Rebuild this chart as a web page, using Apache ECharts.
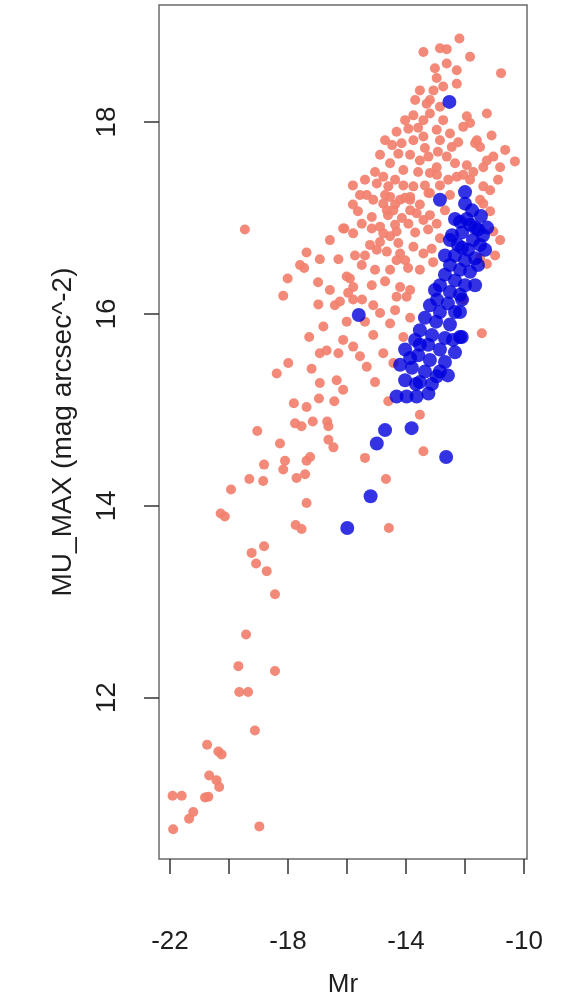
<!DOCTYPE html>
<html>
<head>
<meta charset="utf-8">
<script src="https://cdn.jsdelivr.net/npm/echarts@6/dist/echarts.min.js"></script>
<style>
  html, body { margin: 0; padding: 0; background: #fff; }
  #main { width: 566px; height: 998px; }
</style>
</head>
<body>
<div id="main"></div>
<script>
// tick positions / labels
var xTicks = [-22, -20, -18, -16, -14, -12, -10];
var xLabels = [-22, -18, -14, -10];
var yTicks = [12, 14, 16, 18];

// salmon points: [Mr, MU_MAX]
var others = [
  [-18.44, 13.08], [-19.42, 12.66], [-19.68, 12.33], [-18.44, 12.28], [-19.65, 12.06],
  [-19.35, 12.06], [-19.12, 11.66], [-20.74, 11.51], [-20.36, 11.44], [-20.25, 11.41],
  [-20.67, 11.19], [-20.42, 11.14], [-20.33, 11.07], [-21.91, 10.98], [-21.60, 10.98],
  [-20.81, 10.96], [-20.70, 10.97], [-21.21, 10.81], [-21.35, 10.74], [-21.89, 10.63],
  [-18.97, 10.66],
  [-18.38, 15.38], [-16.92, 15.28], [-16.35, 15.31], [-16.13, 15.21], [-17.80, 15.07],
  [-17.37, 15.03], [-16.95, 15.12], [-16.43, 15.09], [-17.76, 14.86], [-17.54, 14.83],
  [-17.16, 14.88], [-16.67, 14.88], [-16.63, 14.83], [-19.04, 14.78], [-18.27, 14.65],
  [-16.63, 14.69], [-16.46, 14.61], [-18.10, 14.47], [-18.16, 14.38], [-17.25, 14.51],
  [-17.37, 14.47], [-18.81, 14.43], [-19.31, 14.28], [-18.84, 14.26], [-17.71, 14.29],
  [-17.42, 14.33], [-19.93, 14.17], [-17.37, 14.03], [-20.28, 13.92], [-20.14, 13.89],
  [-17.74, 13.80], [-17.54, 13.76], [-18.81, 13.58], [-19.23, 13.51], [-19.08, 13.40],
  [-18.72, 13.32],
  [-19.46, 16.88], [-17.37, 16.64], [-17.59, 16.51], [-17.45, 16.48], [-16.92, 16.57],
  [-16.29, 16.57], [-16.09, 16.89], [-18.01, 16.37], [-18.16, 16.19], [-16.97, 16.10],
  [-16.41, 16.09], [-16.24, 16.13], [-16.80, 15.87], [-17.28, 15.76], [-16.92, 15.59],
  [-16.69, 15.62], [-16.29, 15.59], [-17.99, 15.49], [-17.20, 15.43], [-16.01, 16.39],
  [-16.01, 15.92],
  [-15.33, 17.24], [-15.80, 17.14], [-15.63, 17.07], [-15.16, 17.01], [-16.13, 16.89],
  [-15.79, 16.84], [-15.50, 16.94], [-15.16, 16.89], [-14.88, 16.91], [-15.22, 16.72],
  [-14.88, 16.75], [-14.54, 16.81], [-14.32, 16.86], [-14.26, 16.74], [-14.20, 16.63],
  [-15.50, 16.51], [-14.32, 16.56], [-15.90, 16.37], [-15.79, 16.28], [-15.16, 16.30],
  [-14.71, 16.34], [-14.20, 16.28], [-13.93, 16.48], [-14.32, 16.18], [-13.98, 16.18],
  [-14.71, 17.24], [-14.37, 17.14], [-14.03, 17.21], [-14.61, 17.03], [-14.14, 17.00],
  [-14.65, 17.08], [-13.86, 17.19], [-13.64, 17.05], [-13.19, 17.26], [-14.77, 16.84],
  [-13.92, 16.94], [-13.41, 16.98], [-12.96, 16.94], [-14.99, 16.67], [-14.65, 16.65],
  [-13.75, 16.70], [-13.41, 16.63], [-13.13, 16.68], [-15.73, 16.61], [-13.53, 16.46],
  [-13.86, 16.25], [-15.96, 16.22], [-15.79, 16.15], [-15.11, 16.09], [-14.88, 16.01],
  [-14.54, 15.90], [-14.09, 15.76], [-15.11, 15.78], [-16.13, 15.73], [-15.79, 15.66],
  [-15.56, 15.56], [-15.33, 15.45], [-14.77, 15.59], [-14.43, 15.49],
  [-11.15, 17.07], [-11.04, 16.86], [-11.38, 17.15], [-11.49, 16.58], [-11.26, 16.52],
  [-12.06, 16.15], [-11.43, 15.80],
  [-15.05, 15.29], [-14.60, 15.09], [-13.53, 14.95], [-13.41, 14.57], [-15.39, 14.50],
  [-14.68, 14.28], [-14.58, 13.77],
  [-12.19, 18.87], [-13.41, 18.73], [-12.85, 18.77], [-12.62, 18.76], [-11.83, 18.68],
  [-10.78, 18.51], [-12.62, 18.61], [-13.02, 18.56], [-12.28, 18.54], [-12.96, 18.46],
  [-12.28, 18.40], [-13.07, 18.33], [-12.74, 18.37], [-13.19, 18.23], [-12.85, 18.16],
  [-13.30, 18.19], [-13.19, 18.09], [-13.75, 18.07], [-13.41, 18.02], [-14.32, 17.90],
  [-13.92, 17.93], [-14.15, 17.78], [-13.75, 17.81], [-13.41, 17.85], [-12.96, 17.92],
  [-12.74, 18.02], [-12.51, 17.88], [-12.45, 17.74], [-11.94, 18.06], [-11.83, 17.99],
  [-11.26, 18.09], [-11.60, 17.81], [-11.49, 17.74], [-12.23, 17.79], [-13.86, 17.66],
  [-13.53, 17.60], [-13.24, 17.64], [-12.96, 17.53], [-13.19, 17.47], [-14.26, 17.67],
  [-14.54, 17.57], [-14.09, 17.50], [-12.62, 17.64], [-12.34, 17.57], [-11.94, 17.55],
  [-11.72, 17.48], [-11.38, 17.53], [-15.05, 17.48], [-14.77, 17.43], [-14.99, 17.36],
  [-14.60, 17.33], [-14.37, 17.40], [-14.09, 17.34], [-13.75, 17.33], [-13.86, 17.22],
  [-14.20, 17.19], [-14.54, 17.22], [-14.77, 17.15], [-15.11, 17.19], [-14.43, 17.08],
  [-13.86, 17.08], [-13.24, 17.26], [-12.57, 17.40], [-12.28, 17.43], [-11.83, 17.40],
  [-11.49, 17.19], [-11.38, 17.33], [-12.06, 17.95], [-11.10, 17.86], [-11.66, 17.78],
  [-11.26, 17.60], [-11.04, 17.64], [-10.81, 17.53], [-10.31, 17.59], [-12.06, 17.45],
  [-15.80, 17.34],
  [-13.53, 18.33], [-13.69, 18.23], [-14.03, 18.02], [-13.59, 17.94], [-14.47, 17.76],
  [-14.88, 17.66], [-14.71, 17.81], [-13.36, 17.73], [-12.85, 17.81], [-12.92, 17.69],
  [-13.59, 17.48], [-13.36, 17.34], [-12.85, 17.34], [-12.95, 17.45], [-15.39, 17.40],
  [-15.56, 17.24], [-13.53, 17.14], [-13.19, 17.03], [-12.68, 17.08], [-12.51, 17.24],
  [-14.37, 16.93], [-13.69, 16.85], [-13.25, 16.88], [-12.85, 16.79], [-14.03, 16.56],
  [-13.08, 16.54], [-14.54, 16.46], [-15.39, 16.61], [-15.05, 16.46], [-16.58, 16.77],
  [-16.98, 16.33], [-16.58, 16.25], [-15.49, 16.15], [-15.39, 15.92], [-14.37, 16.04],
  [-13.86, 15.96], [-10.88, 17.40], [-10.64, 17.71], [-11.15, 17.29], [-10.81, 16.77],
  [-10.98, 16.61]
];

// blue points: [Mr, MU_MAX]
var sample = [
  [-12.53, 18.21], [-12.85, 17.19], [-12.00, 17.27], [-12.00, 17.15], [-12.34, 16.99],
  [-11.94, 16.99], [-12.17, 16.96], [-11.83, 16.93], [-11.56, 16.88], [-11.39, 16.82],
  [-12.10, 16.85], [-11.73, 16.77], [-12.24, 16.72], [-11.90, 16.67], [-11.49, 16.72],
  [-12.34, 16.61], [-12.00, 16.56], [-11.66, 16.58], [-12.51, 16.51], [-12.17, 16.46],
  [-11.83, 16.44], [-12.68, 16.41], [-12.34, 16.35], [-12.00, 16.30], [-12.85, 16.30],
  [-12.51, 16.23], [-12.17, 16.20], [-12.95, 16.15], [-12.58, 16.11], [-13.19, 16.09],
  [-12.85, 16.02], [-12.34, 16.02], [-13.36, 15.96], [-12.98, 15.92], [-12.51, 15.89],
  [-13.53, 15.83], [-13.12, 15.78], [-12.68, 15.75], [-12.17, 15.76], [-13.69, 15.73],
  [-13.25, 15.68], [-12.85, 15.63], [-12.34, 15.60], [-14.03, 15.63], [-13.59, 15.57],
  [-13.19, 15.52], [-12.68, 15.50], [-14.20, 15.47], [-13.80, 15.44], [-13.36, 15.40],
  [-12.85, 15.40], [-14.03, 15.31], [-13.53, 15.29], [-12.96, 15.35], [-14.32, 15.14],
  [-13.98, 15.14], [-13.64, 15.14], [-13.24, 15.17], [-13.81, 14.81], [-14.71, 14.79],
  [-14.99, 14.65], [-12.64, 14.51], [-15.20, 14.10], [-15.99, 13.77], [-15.60, 15.99],
  [-12.17, 16.02], [-12.11, 15.76], [-11.66, 16.90], [-11.46, 17.02], [-12.44, 16.82],
  [-11.76, 17.08], [-11.25, 16.90], [-11.32, 16.67], [-11.56, 16.51], [-12.10, 16.69],
  [-12.51, 16.77], [-12.68, 16.61], [-11.66, 16.30], [-13.02, 16.25], [-12.10, 16.15],
  [-13.53, 15.68], [-13.86, 15.54], [-12.41, 15.73], [-13.66, 15.27], [-13.12, 15.27],
  [-12.58, 15.36]
];

var textColor = '#1e1e1e';
var font = 'Liberation Sans, Arial, Helvetica, sans-serif';

var chart = echarts.init(document.getElementById('main'));
chart.setOption({
  animation: false,
  backgroundColor: '#ffffff',
  grid: {
    left: 159, right: 39, top: 5, bottom: 139,
    outerBoundsMode: 'none',
    show: true, borderColor: '#6a6a6a', borderWidth: 1.5, backgroundColor: 'transparent'
  },
  xAxis: {
    type: 'value',
    min: -22.37, max: -9.9,
    name: 'Mr',
    nameLocation: 'middle',
    nameGap: 113,
    nameTextStyle: { fontSize: 26, color: textColor, fontFamily: font },
    splitLine: { show: false },
    axisLine: { show: false },
    axisTick: { show: true, length: 15, customValues: xTicks, lineStyle: { color: '#333', width: 1.5 } },
    axisLabel: { margin: 70, fontSize: 26, color: textColor, fontFamily: font, customValues: xLabels }
  },
  yAxis: {
    type: 'value',
    min: 10.32, max: 19.22,
    name: 'MU_MAX (mag arcsec^-2)',
    nameLocation: 'middle',
    nameGap: 82,
    nameRotate: 90,
    nameTextStyle: { fontSize: 28, color: textColor, fontFamily: font },
    splitLine: { show: false },
    axisLine: { show: false },
    axisTick: { show: true, length: 15, customValues: yTicks, lineStyle: { color: '#333', width: 1.5 } },
    axisLabel: { margin: 38, rotate: 90, fontSize: 28, color: textColor, fontFamily: font, customValues: yTicks }
  },
  series: [
    {
      name: 'others',
      type: 'scatter',
      data: others,
      symbol: 'circle',
      symbolSize: 10,
      itemStyle: { color: '#F2806E', opacity: 0.92 }
    },
    {
      name: 'sample',
      type: 'scatter',
      data: sample,
      symbol: 'circle',
      symbolSize: 14,
      itemStyle: { color: '#0000DC' }
    }
  ]
});
</script>
</body>
</html>
